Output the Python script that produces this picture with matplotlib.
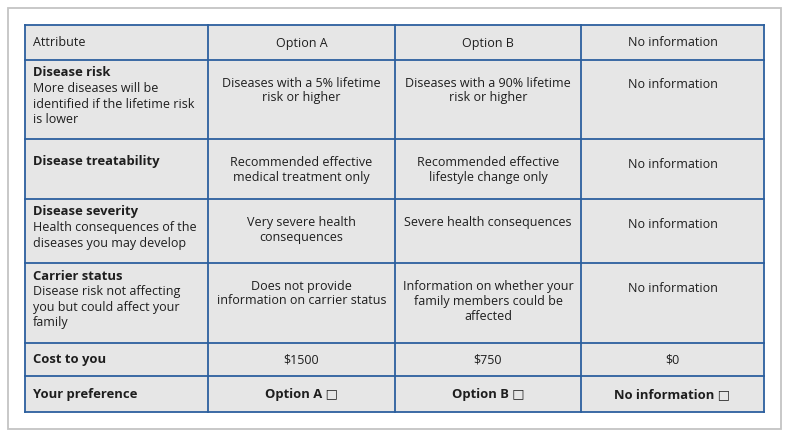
import matplotlib
matplotlib.use("Agg")
import matplotlib.pyplot as plt
from matplotlib.patches import Rectangle

plt.rcParams['font.family'] = ['Open Sans', 'DejaVu Sans']

# ---- table content ----
header = ["Attribute", "Option A", "Option B", "No information"]
attr_titles = ["Disease risk", "Disease treatability", "Disease severity",
               "Carrier status", "Cost to you", "Your preference"]
attr_desc = ["More diseases will be\nidentified if the lifetime risk\nis lower",
             "",
             "Health consequences of the\ndiseases you may develop",
             "Disease risk not affecting\nyou but could affect your\nfamily",
             "", ""]
option_a = ["Diseases with a 5% lifetime\nrisk or higher",
            "Recommended effective\nmedical treatment only",
            "Very severe health\nconsequences",
            "Does not provide\ninformation on carrier status",
            "$1500", "Option A \u25a1"]
option_b = ["Diseases with a 90% lifetime\nrisk or higher",
            "Recommended effective\nlifestyle change only",
            "Severe health consequences",
            "Information on whether your\nfamily members could be\naffected",
            "$750", "Option B \u25a1"]
no_info = ["No information", "No information", "No information",
           "No information", "$0", "No information \u25a1"]

# ---- layout (pixels) ----
W, H = 790, 437
col_x = [25, 208, 395, 581, 764]
row_y = [25, 60, 139, 199, 263, 343, 376, 412]
cell_bg = "#e6e6e6"
line_c = "#2c5f9e"
txt_c = "#1e1e1e"
fs = 9.0
bfs = 9.4
lh = 15.3  # line height px

fig = plt.figure(figsize=(W / 100, H / 100), dpi=100)
ax = fig.add_axes([0, 0, 1, 1])
ax.set_xlim(0, W)
ax.set_ylim(H, 0)
ax.axis("off")

# outer frame
ax.add_patch(Rectangle((7.5, 7.5), 773, 421, facecolor="white",
                       edgecolor="#c4c4c4", lw=1.3))
# table background
ax.add_patch(Rectangle((col_x[0], row_y[0]), col_x[-1] - col_x[0],
                       row_y[-1] - row_y[0], facecolor=cell_bg,
                       edgecolor="none"))
for x in col_x:
    ax.plot([x, x], [row_y[0], row_y[-1]], color=line_c, lw=1.3,
            solid_capstyle="projecting")
for y in row_y:
    ax.plot([col_x[0], col_x[-1]], [y, y], color=line_c, lw=1.3,
            solid_capstyle="projecting")

# header row
hy = (row_y[0] + row_y[1]) / 2 + 0.5
ax.text(col_x[0] + 8, hy, header[0], ha="left", va="center",
        fontsize=fs, color=txt_c)
for j in range(1, 4):
    ax.text((col_x[j] + col_x[j + 1]) / 2, hy, header[j], ha="center",
            va="center", fontsize=fs, color=txt_c)

cols = [option_a, option_b, no_info]
n = len(attr_titles)
for i in range(n):
    top = row_y[i + 1]
    bot = row_y[i + 2]
    last_two = i >= n - 2
    if last_two:
        cy = (top + bot) / 2 + 0.5
        ax.text(col_x[0] + 8, cy, attr_titles[i], ha="left", va="center",
                fontsize=bfs, fontweight="bold", color=txt_c)
        for j, col in enumerate(cols):
            bold = i == n - 1
            ax.text((col_x[j + 1] + col_x[j + 2]) / 2, cy, col[i],
                    ha="center", va="center", fontsize=bfs if bold else fs,
                    fontweight="bold" if bold else "normal",
                    color=txt_c)
        continue
    # first column
    if attr_desc[i]:
        ty = top + 13
        ax.text(col_x[0] + 8, ty, attr_titles[i], ha="left", va="center",
                fontsize=bfs, fontweight="bold", color=txt_c)
        for k, line in enumerate(attr_desc[i].split("\n")):
            ax.text(col_x[0] + 8, ty + lh * (k + 1) + 0.5, line, ha="left",
                    va="center", fontsize=fs, color=txt_c)
    else:
        ax.text(col_x[0] + 8, top + 23, attr_titles[i], ha="left",
                va="center", fontsize=bfs, fontweight="bold", color=txt_c)
    # option columns
    for j, col in enumerate(cols):
        cx = (col_x[j + 1] + col_x[j + 2]) / 2
        off = 25 if j == 2 else 23.5
        for k, line in enumerate(col[i].split("\n")):
            ax.text(cx, top + off + lh * k - (1 if k else 0) * 0.8, line,
                    ha="center", va="center", fontsize=fs, color=txt_c)

fig.savefig("out.png", dpi=100)
